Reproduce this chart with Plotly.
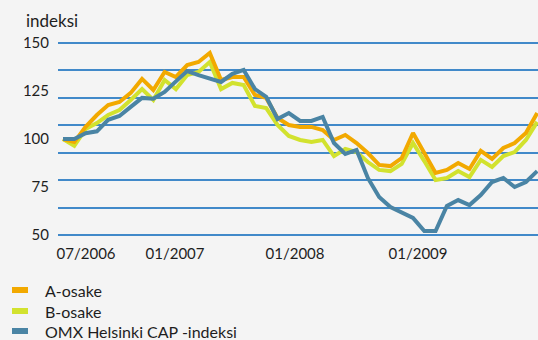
import plotly.graph_objects as go

# Monthly index values (start = 100)
points = list(range(43))

a_osake = [100, 98.4, 106.3, 112.5, 117.7, 119.3, 124, 131.3, 125.5, 134.9,
           132.3, 138.5, 140.1, 144.8, 130.7, 132.3, 132.3, 122.9, 121.4, 110.9,
           107.3, 106.3, 106.3, 104.7, 99.5, 102.1, 97.9, 92.7, 86.5, 85.9,
           90.1, 103.1, 92.7, 82.3, 83.9, 87.5, 84.4, 93.8, 89.6, 95.3,
           97.9, 103.1, 113.5]

b_osake = [100, 96.4, 105.2, 108.3, 112.5, 115.1, 120.3, 126, 120.3, 130.7,
           126, 133.3, 134.9, 140.1, 126, 129.2, 128.1, 117.2, 116.1, 107.3,
           101.6, 99.5, 98.4, 99.5, 91.1, 94.8, 93.2, 88, 83.9, 83.3,
           87, 97.9, 88.5, 78.6, 79.7, 83.3, 80.2, 89.1, 85.4, 91.1,
           93.2, 99.5, 108.9]

omx_cap = [100, 100, 103, 104, 110, 112, 116.7, 121.4, 121, 124.5,
           130, 135.4, 133.3, 131.3, 129.7, 133.9, 136, 126, 121.9, 110.4,
           113.5, 109.4, 109.4, 111.5, 97.9, 92.2, 94.3, 79.7, 69.8, 64.6,
           61.5, 58.9, 52.1, 52.1, 65.1, 68.2, 65.6, 70.8, 77.6, 79.7,
           75, 77.6, 83.3]

series_names = ["A-osake", "B-osake", "OMX Helsinki CAP -indeksi"]
series_colors = ["#F2A900", "#D2E22E", "#4A84A4"]

x_tick_labels = ["07/2006", "01/2007", "01/2008", "01/2009"]
x_tick_pos = [2.04, 9.92, 20.55, 31.44]

y_tick_labels = [50, 75, 100, 125, 150]
grid_values = [50 + k * 100 / 7 for k in range(8)]

W, H = 538, 340
ML, MR, MT, MB = 58, 0, 40, 102
PW, PH = W - ML - MR, H - MT - MB


def px_x(px):
    return (px - ML) / PW


def px_y(py):
    return (H - MB - py) / PH


fig = go.Figure()
# draw order: B under A, index line on top
for vals, idx in ((b_osake, 1), (a_osake, 0), (omx_cap, 2)):
    fig.add_trace(go.Scatter(
        x=points, y=vals, mode="lines", name=series_names[idx],
        line=dict(color=series_colors[idx], width=4), showlegend=False,
        hoverinfo="skip"))

# invisible trace carrying the labelled y axis
fig.add_trace(go.Scatter(x=[points[0]], y=[a_osake[0]], yaxis="y2",
                         mode="markers", marker=dict(opacity=0),
                         showlegend=False, hoverinfo="skip"))

yrange = [48.44, 151.56]
font = "Lato, 'Open Sans', sans-serif"

fig.update_layout(
    width=W, height=H,
    margin=dict(l=ML, r=MR, t=MT, b=MB),
    paper_bgcolor="#F4F4F4", plot_bgcolor="#F4F4F4",
    font=dict(family=font, size=15, color="#1E1E1E"),
    xaxis=dict(range=[-0.443, 42.07], showgrid=False, zeroline=False,
               showline=False, tickvals=x_tick_pos, ticktext=x_tick_labels,
               ticks="outside", ticklen=2, tickcolor="rgba(0,0,0,0)",
               tickfont=dict(size=15)),
    yaxis=dict(range=yrange, tickvals=grid_values, showticklabels=False,
               showgrid=True, gridcolor="#4189C9", gridwidth=1.6,
               zeroline=False, showline=False, ticks=""),
    yaxis2=dict(range=yrange, overlaying="y", side="left",
                tickvals=y_tick_labels, showgrid=False, zeroline=False,
                showline=False, ticks="outside", ticklen=5,
                tickcolor="rgba(0,0,0,0)", tickfont=dict(size=15)),
)

fig.add_annotation(text="indeksi", xref="paper", yref="paper",
                   x=px_x(24), y=px_y(20), xanchor="left", yanchor="middle",
                   showarrow=False, font=dict(size=17))

# legend: short colour bar plus label
legend_rows = [290, 311, 331]
for name, color, row in zip(series_names, series_colors, legend_rows):
    fig.add_shape(type="rect", xref="paper", yref="paper",
                  x0=px_x(12), x1=px_x(28), y0=px_y(row + 3), y1=px_y(row - 3),
                  fillcolor=color, line=dict(width=0))
    fig.add_annotation(text=name, xref="paper", yref="paper",
                       x=px_x(43), y=px_y(row), xanchor="left",
                       yanchor="middle", showarrow=False,
                       font=dict(size=16))

fig.write_html("out.html")
